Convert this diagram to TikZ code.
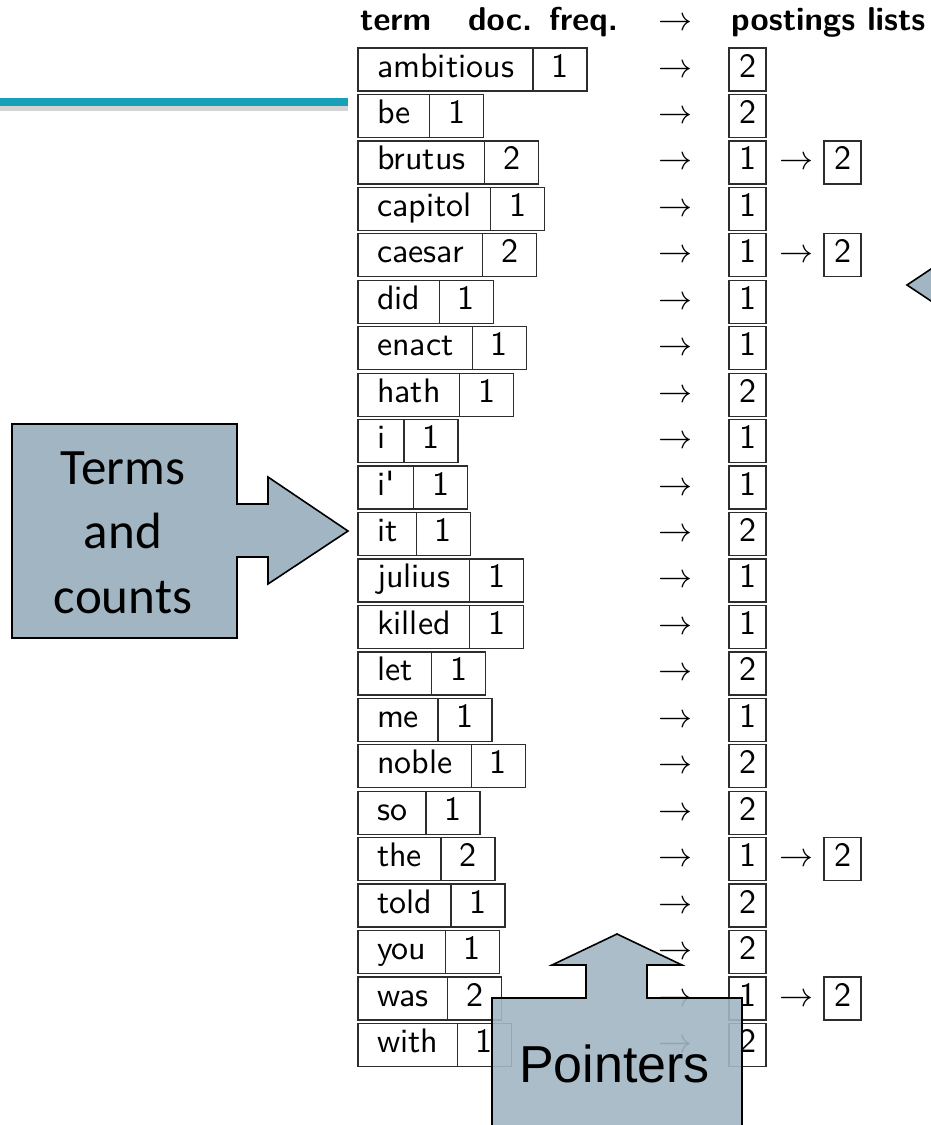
\documentclass[tikz,border=0pt]{standalone}
\usepackage{fontspec}
\newfontfamily\calfont{Carlito}
\newfontfamily\arfont{Liberation Sans}
\newfontfamily\tabsf{lmsans10-regular.otf}[BoldFont=lmsans10-bold.otf]
\newcommand\tblfont{\fontsize{34}{40}\selectfont\tabsf}
\newcommand\hdrfont{\fontsize{33}{40}\selectfont\tabsf\bfseries}
\newcommand\bigarrow{{\fontsize{10}{12}\selectfont\scalebox{3.4}{$\rightarrow$}}}
\definecolor{barteal}{RGB}{23,160,184}
\definecolor{shadowgray}{RGB}{212,212,212}
\definecolor{calloutfill}{RGB}{161,182,194}
\definecolor{cellgray}{RGB}{45,45,45}
\begin{document}
\begin{tikzpicture}[x=1pt,y=-1pt,
  cell/.style={draw=cellgray, line width=1.3pt, outer sep=0pt, inner xsep=19pt, inner ysep=5pt,
    text height=24pt, text depth=9pt, font=\tblfont},
  post/.style={cell, inner xsep=10pt},
  arr/.style={inner sep=0pt, font=\tblfont},
  hdr/.style={inner sep=0pt, font=\hdrfont},
  callout/.style={fill=calloutfill, draw=black, line width=1.6pt, line join=miter}]
\useasboundingbox (0,0) rectangle (931,1125);
\clip (0,0) rectangle (931,1125);
% teal title bar
\fill[shadowgray] (0,104) rectangle (348,111);
\fill[barteal] (0,98) rectangle (348,106);
% header
\node[hdr, anchor=base west] (h1) at (360,30) {term};
\node[hdr, anchor=base west] (h2) at (468,30) {doc.\hskip 17pt freq.};
\node[arr, anchor=base] (h3) at (675,30) {\bigarrow};
\node[hdr, anchor=base west] (h4) at (731,30) {postings lists};
% rows
\foreach \term/\df/\pa/\pb [count=\i from 0] in {ambitious/1/2/0, be/1/2/0, brutus/2/1/2,
  capitol/1/1/0, caesar/2/1/2, did/1/1/0, enact/1/1/0, hath/1/2/0, i/1/1/0, i'/1/1/0,
  it/1/2/0, julius/1/1/0, killed/1/1/0, let/1/2/0, me/1/1/0, noble/1/2/0, so/1/2/0,
  the/2/1/2, told/1/2/0, you/1/2/0, was/2/1/2, with/1/2/0} {
  \pgfmathsetmacro\yc{69.5+46.45*\i}
  \pgfmathsetmacro\yb{\yc+7.5}
  \node[cell, anchor=west] (t\i) at (358,\yc) {\term};
  \node[cell, anchor=west, inner xsep=18.5pt] (f\i) at (t\i.east) {\df};
  \node[arr, anchor=base] (a\i) at (675,\yb) {\bigarrow};
  \node[post, anchor=west] (p\i) at (729,\yc) {\pa};
  \ifnum\pb>0
    \node[arr, anchor=base] (b\i) at (796,\yb) {\bigarrow};
    \node[post, anchor=west] (q\i) at (824,\yc) {\pb};
  \fi
}
% Terms and counts callout
\draw[callout] (12,424) -- (237,424) -- (237,504) -- (268,504) -- (268,477) -- (348,531)
  -- (268,584) -- (268,557) -- (237,557) -- (237,638) -- (12,638) -- cycle;
\node[inner sep=0pt, align=center, font=\calfont\fontsize{51}{64.5}\selectfont] (tc) at (123,532.5)
  {Terms\\and\\counts};
% right partial callout
\draw[callout] (907,285) -- (955,253) -- (955,317) -- cycle;
% Pointers callout
\draw[callout, fill opacity=0.9] (492,1135) -- (492,998) -- (586,998) -- (586,965) -- (552,965)
  -- (617,934) -- (682,965) -- (647,965) -- (647,998) -- (742,998) -- (742,1135) -- cycle;
\node[inner sep=0pt, anchor=base west, font=\arfont\fontsize{52}{60}\selectfont] (pt) at (519,1082) {Pointers};
\end{tikzpicture}
\end{document}
